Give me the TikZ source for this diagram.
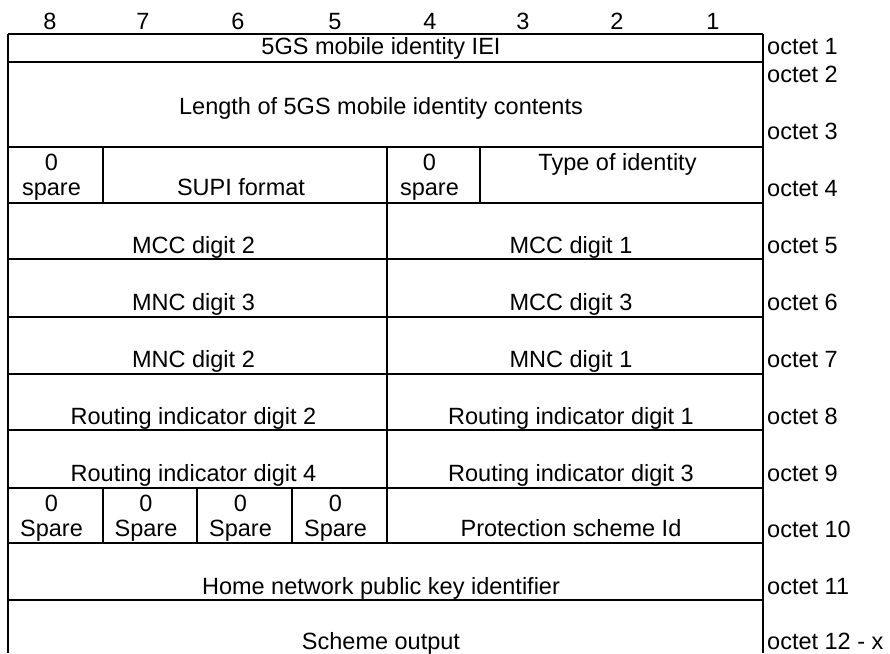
\documentclass[tikz,border=0pt]{standalone}
\usepackage{fontspec}
\setmainfont{Liberation Sans}
\newcommand{\cellfont}{\fontsize{23.5}{25}\selectfont}

\begin{document}
\begin{tikzpicture}[x=1pt, y=-1pt]
\tikzset{rule/.style={line width=1.8pt}}
\tikzset{cell/.style={font=\cellfont, anchor=base, inner sep=0pt, align=center}}
\tikzset{oct/.style={font=\cellfont, anchor=base west, inner sep=0pt}}

\useasboundingbox (0,0) rectangle (890,653);

% bit numbers
\foreach \b/\x in {8/50, 7/143, 6/238, 5/335, 4/430, 3/523, 2/617, 1/713}
  \node[cell] (bit\b) at (\x,29) {\b};

% table rules
\foreach \y in {34, 62, 147, 203, 259, 317, 374, 430, 488, 543, 600}
  \draw[rule] (8,\y) -- (763,\y);
\draw[rule] (8,34) -- (8,653);
\draw[rule] (763,34) -- (763,653);
\foreach \x in {103, 387, 480}
  \draw[rule] (\x,147) -- (\x,203);
\draw[rule] (387,203) -- (387,488);
\foreach \x in {103, 197, 292, 387}
  \draw[rule] (\x,488) -- (\x,543);

% fields
\node[cell] (iei) at (381,54) {5GS mobile identity IEI};
\node[cell] (len) at (381,114) {Length of 5GS mobile identity contents};
\node[cell] (spareA) at (51.5,195) {0\\spare};
\node[cell] (supi) at (241,195) {SUPI format};
\node[cell] (spareB) at (429.5,195) {0\\spare};
\node[cell] (toi) at (617.5,170) {Type of identity};
\node[cell] (mcc2) at (193.5,253) {MCC digit 2};
\node[cell] (mcc1) at (571,253) {MCC digit 1};
\node[cell] (mnc3) at (193.5,310) {MNC digit 3};
\node[cell] (mcc3) at (571,310) {MCC digit 3};
\node[cell] (mnc2) at (193.5,367) {MNC digit 2};
\node[cell] (mnc1) at (571,367) {MNC digit 1};
\node[cell] (ri2) at (193.5,424) {Routing indicator digit 2};
\node[cell] (ri1) at (571,424) {Routing indicator digit 1};
\node[cell] (ri4) at (193.5,481) {Routing indicator digit 4};
\node[cell] (ri3) at (571,481) {Routing indicator digit 3};
\foreach \i/\x in {1/51.5, 2/146, 3/240.5, 4/335.5}
  \node[cell] (sp\i) at (\x,536) {0\\Spare};
\node[cell] (psi) at (571,536) {Protection scheme Id};
\node[cell] (hnpk) at (381,594) {Home network public key identifier};
\node[cell] (out) at (381,649) {Scheme output};

% octet labels
\foreach \n/\y in {1/54, 2/82, 3/139, 4/196, 5/253, 6/310, 7/367, 8/424, 9/481, 10/537, 11/594}
  \node[oct] (oct\n) at (767,\y) {octet \n};
\node[oct] (oct12) at (767,649) {octet 12 - x};
\end{tikzpicture}
\end{document}
